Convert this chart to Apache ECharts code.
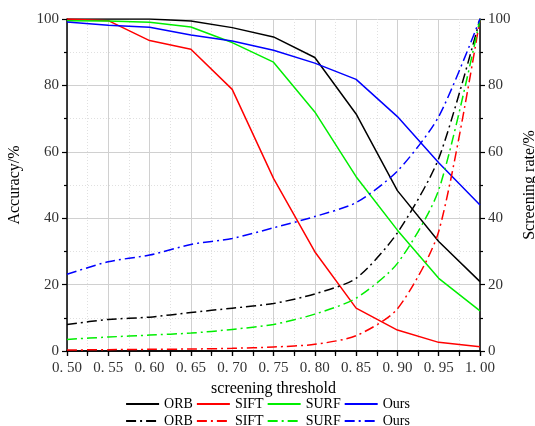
<!DOCTYPE html>
<html>
<head>
<meta charset="utf-8">
<script src="https://cdn.jsdelivr.net/npm/echarts@6/dist/echarts.min.js"></script>
<style>
  html, body { margin: 0; padding: 0; background: #fff; }
  #chart { width: 535px; height: 426px; }
</style>
</head>
<body>
<div id="chart"></div>
<script>
// Screening thresholds (x axis)
const thresholds = [0.50, 0.55, 0.60, 0.65, 0.70, 0.75, 0.80, 0.85, 0.90, 0.95, 1.00];

// Accuracy (%) per method
const accORB  = [100, 100, 100, 99.4, 97.4, 94.6, 88.4, 71.4, 48.3, 33.0, 20.9];
const accSIFT = [100, 99.5, 93.5, 90.9, 78.8, 52.0, 29.9, 12.9, 6.3, 2.6, 1.3];
const accSURF = [99.5, 99.4, 99.0, 97.6, 92.9, 87.0, 72.0, 52.5, 36.4, 21.9, 12.1];
const accOurs = [99.1, 98.1, 97.5, 95.2, 93.4, 90.6, 86.7, 81.8, 70.6, 56.7, 44.0];

// Screening rate (%) per method
const rateORB  = [8.0, 9.5, 10.2, 11.6, 12.9, 14.3, 17.2, 21.9, 35.6, 58.0, 100];
const rateSIFT = [0.3, 0.4, 0.5, 0.6, 0.8, 1.2, 2.0, 4.6, 12.7, 36.0, 100];
const rateSURF = [3.5, 4.2, 4.8, 5.4, 6.5, 8.0, 11.1, 15.9, 26.4, 48.5, 100];
const rateOurs = [23.1, 26.9, 28.9, 32.1, 33.9, 37.1, 40.5, 44.7, 54.2, 70.6, 100];

const methods = ['ORB', 'SIFT', 'SURF', 'Ours'];
const colors = ['#000000', '#ff0000', '#00ee00', '#0000ff'];
const accData = [accORB, accSIFT, accSURF, accOurs];
const rateData = [rateORB, rateSIFT, rateSURF, rateOurs];

const FONT = '"Liberation Serif", "DejaVu Serif", serif';
const dashDot = [10, 4, 2, 4];

function pairs(ys) { return thresholds.map((x, i) => [x, ys[i]]); }

const series = [];
methods.forEach((m, i) => {
  series.push({
    name: m, type: 'line', xAxisIndex: 0, yAxisIndex: 0,
    data: pairs(accData[i]), symbol: 'none', z: 3,
    lineStyle: { color: colors[i], width: 1.5, type: 'solid' },
    itemStyle: { color: colors[i] }
  });
});
methods.forEach((m, i) => {
  series.push({
    name: m + ' ', type: 'line', xAxisIndex: 0, yAxisIndex: 1,
    data: pairs(rateData[i]), symbol: 'none', smooth: 0.25, z: 3,
    lineStyle: { color: colors[i], width: 1.5, type: dashDot },
    itemStyle: { color: colors[i] }
  });
});

// Legend icons show only the line stroke (no marker)
const legendBase = {
  left: 'center', orient: 'horizontal', itemWidth: 33, itemHeight: 12, itemGap: 3,
  textStyle: { fontFamily: FONT, fontSize: 14, color: '#000' },
  itemStyle: { color: 'rgba(0,0,0,0)', borderColor: 'rgba(0,0,0,0)', borderWidth: 0, opacity: 0 },
  formatter: n => n.trim(), selectedMode: false
};

const tickCommon = { lineStyle: { color: '#000', width: 1.2 } };

const option = {
  animation: false,
  backgroundColor: '#fff',
  grid: { left: 67, right: 55, top: 19, bottom: 75, outerBoundsMode: 'none', containLabel: false },
  legend: [
    Object.assign({ top: 392, data: methods.slice() }, legendBase),
    Object.assign({ top: 409, data: methods.map(m => m + ' ') }, legendBase)
  ],
  xAxis: [
    {
      type: 'value', position: 'bottom', min: 0.5, max: 1.0, interval: 0.05,
      name: 'screening threshold', nameLocation: 'middle', nameGap: 21,
      nameTextStyle: { fontFamily: FONT, fontSize: 16, color: '#000' },
      axisLine: { lineStyle: { color: '#000', width: 1.5 } },
      axisTick: Object.assign({ inside: false, length: 5 }, tickCommon),
      minorTick: Object.assign({ show: true, splitNumber: 2, length: 3 }, tickCommon),
      axisLabel: {
        fontFamily: FONT, fontSize: 15, color: '#333', margin: 10,
        formatter: v => v.toFixed(2).replace('.', '. ')
      },
      splitLine: { show: true, lineStyle: { color: '#d0d0d0', width: 1 } },
      minorSplitLine: { show: true, lineStyle: { color: '#e0e0e0', width: 1, type: [1, 2] } }
    },
    {
      type: 'value', position: 'top', min: 0.5, max: 1.0, interval: 0.05,
      axisLine: { show: true, lineStyle: { color: '#000', width: 1.5 } },
      axisTick: Object.assign({ inside: true, length: 5 }, tickCommon),
      minorTick: Object.assign({ show: true, splitNumber: 2, length: 5 }, tickCommon),
      axisLabel: { show: false },
      splitLine: { show: false }
    }
  ],
  yAxis: [
    {
      type: 'value', position: 'left', min: 0, max: 100, interval: 20,
      name: 'Accuracy/%', nameLocation: 'middle', nameGap: 44, nameRotate: 90,
      nameTextStyle: { fontFamily: FONT, fontSize: 16, color: '#000' },
      axisLine: { show: true, lineStyle: { color: '#000', width: 1.5 } },
      axisTick: Object.assign({ show: true, inside: false, length: 5 }, tickCommon),
      minorTick: Object.assign({ show: true, splitNumber: 2, length: 3 }, tickCommon),
      axisLabel: { fontFamily: FONT, fontSize: 15, color: '#333', margin: 8 },
      splitLine: { show: true, lineStyle: { color: '#d0d0d0', width: 1 } },
      minorSplitLine: { show: true, lineStyle: { color: '#e0e0e0', width: 1, type: [1, 2] } }
    },
    {
      type: 'value', position: 'right', min: 0, max: 100, interval: 20,
      name: 'Screening rate/%', nameLocation: 'middle', nameGap: 32, nameRotate: 90,
      nameTextStyle: { fontFamily: FONT, fontSize: 16, color: '#000' },
      axisLine: { show: true, lineStyle: { color: '#000', width: 1.5 } },
      axisTick: Object.assign({ show: true, inside: false, length: 5 }, tickCommon),
      minorTick: Object.assign({ show: true, splitNumber: 2, length: 3 }, tickCommon),
      axisLabel: { fontFamily: FONT, fontSize: 15, color: '#333', margin: 8 },
      splitLine: { show: false }
    }
  ],
  series: series
};

const chart = echarts.init(document.getElementById('chart'), null, { renderer: 'canvas' });
chart.setOption(option);
</script>
</body>
</html>
